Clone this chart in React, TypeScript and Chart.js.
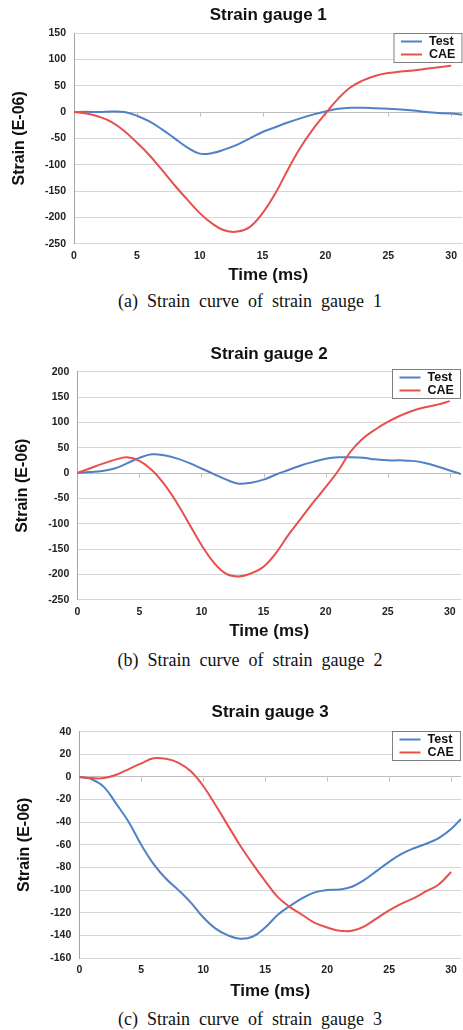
import { useEffect, useRef } from "react";
import { Chart, registerables } from "chart.js";

Chart.register(...registerables);

// ---------- data ----------
const TITLES = ["Strain gauge 1", "Strain gauge 2", "Strain gauge 3"];
const CAPTIONS = [
  "(a) Strain curve of strain gauge 1",
  "(b) Strain curve of strain gauge 2",
  "(c) Strain curve of strain gauge 3",
];
const SERIES_LABELS = ["Test", "CAE"];
const X_TITLE = "Time (ms)";
const Y_TITLE = "Strain (E-06)";
const X_TICKS = [0, 5, 10, 15, 20, 25, 30];

const TIME_TEST_1 = [0, 1, 2, 3, 4, 5, 6, 7, 8, 9, 10, 11, 12, 13, 14, 15, 16, 17, 18, 19, 20, 21, 22, 23, 24, 25, 26, 27, 28, 29, 30, 30.9];
const TEST_1 = [0, 0.5, 0, 1, 0, -7, -18, -33, -50, -67, -79, -78, -71, -62, -50, -38, -29, -20, -12, -5, 1, 6, 8, 8, 7, 6, 5, 3, 0, -2, -3, -5];
const TIME_CAE_1 = [0, 1, 2, 3, 4, 5, 6, 7, 8, 9, 10, 11, 12, 13, 14, 15, 16, 17, 18, 19, 20, 21, 22, 23, 24, 25, 26, 27, 28, 29, 30];
const CAE_1 = [0, -3, -9, -19, -36, -58, -82, -110, -139, -166, -192, -212, -225, -227, -218, -192, -155, -110, -68, -33, -3, 25, 47, 60, 69, 74, 77, 79, 82, 85, 88];

const TIME_TEST_2 = [0, 1, 2, 3, 4, 5, 6, 7, 8, 9, 10, 11, 12, 13, 14, 15, 16, 17, 18, 19, 20, 21, 22, 23, 24, 25, 26, 27, 28, 29, 30, 30.9];
const TEST_2 = [0, 2, 4, 9, 19, 30, 37, 35, 29, 20, 9, -2, -13, -21, -19, -13, -3, 6, 15, 22, 28, 31, 31, 30, 27, 25, 25, 24, 20, 13, 5, -2];
const TIME_CAE_2 = [0, 1, 2, 3, 4, 5, 6, 7, 8, 9, 10, 11, 12, 13, 14, 15, 16, 17, 18, 19, 20, 21, 22, 23, 24, 25, 26, 27, 28, 29, 30];
const CAE_2 = [0, 9, 18, 26, 31, 24, 6, -22, -58, -100, -142, -177, -199, -204, -198, -185, -158, -122, -90, -58, -28, 4, 42, 68, 86, 101, 113, 123, 130, 135, 142];

const TIME_TEST_3 = [0, 1, 2, 3, 4, 5, 6, 7, 8, 9, 10, 11, 12, 13, 14, 15, 16, 17, 18, 19, 20, 21, 22, 23, 24, 25, 26, 27, 28, 29, 30, 30.8];
const TEST_3 = [0, -2, -9, -24, -40, -60, -77, -90, -100, -111, -124, -134, -140, -143, -141, -133, -122, -114, -107, -102, -100, -99.5, -97, -91, -83, -75, -68, -63, -59, -54, -46, -37];
const TIME_CAE_3 = [0, 1, 2, 3, 4, 5, 6, 7, 8, 9, 10, 11, 12, 13, 14, 15, 16, 17, 18, 19, 20, 21, 22, 23, 24, 25, 26, 27, 28, 29, 30];
const CAE_3 = [0, -1, -1, 2, 7, 12, 16.5, 16, 12.5, 5, -8, -25, -43, -61, -77, -92, -106, -115, -122, -129, -133, -136, -136, -132, -125, -118, -112, -107, -101, -95, -84];

const Y_MIN = [-250, -250, -160];
const Y_MAX = [150, 200, 40];
const Y_STEP = [50, 50, 20];
const X_MAX = [30.9, 30.9, 30.8];

const COLOR_TEST = "#4f81c7";
const COLOR_CAE = "#e8504e";

// ---------- layout (page coordinates) ----------
type Panel = {
  canvasTop: number;
  canvasHeight: number;
  titleY: number;
  areaTop: number;
  areaBottom: number;
  areaLeft: number;
  areaRight: number;
  yTitleX: number;
  timeY: number;
  legendDy: number;
  captionY: number;
};

const PANELS: Panel[] = [
  { canvasTop: 0, canvasHeight: 288, titleY: 15, areaTop: 33, areaBottom: 243.7, areaLeft: 74, areaRight: 463, yTitleX: 20, timeY: 275, legendDy: 0, captionY: 301 },
  { canvasTop: 336, canvasHeight: 308, titleY: 354, areaTop: 371.7, areaBottom: 599.7, areaLeft: 77.3, areaRight: 461, yTitleX: 23, timeY: 631.7, legendDy: -3, captionY: 660 },
  { canvasTop: 695, canvasHeight: 308, titleY: 712, areaTop: 731.7, areaBottom: 958, areaLeft: 79.3, areaRight: 463, yTitleX: 25, timeY: 991.7, legendDy: -0.7, captionY: 1019 },
];

const SANS = "'Liberation Sans', Arial, sans-serif";
const SERIF = "'Liberation Serif', 'Times New Roman', serif";
const TITLE_SIZE = 17;
const YTITLE_SIZE = 16;
const TICK_SIZE = 10.5;
const LEGEND_SIZE = 12.5;

function toPoints(xs: number[], ys: number[]) {
  return xs.map((x, i) => ({ x, y: ys[i] }));
}

const SERIES = [
  [toPoints(TIME_TEST_1, TEST_1), toPoints(TIME_CAE_1, CAE_1)],
  [toPoints(TIME_TEST_2, TEST_2), toPoints(TIME_CAE_2, CAE_2)],
  [toPoints(TIME_TEST_3, TEST_3), toPoints(TIME_CAE_3, CAE_3)],
];

const legendPlugin = {
  id: "boxLegend",
  afterDraw(chart: any, _args: any, opts: any) {
    const { ctx, chartArea } = chart;
    const w = 68;
    const h = 29;
    const left = chartArea.right - w - 0.5;
    const top = Math.round(chartArea.top + (opts.dy || 0)) + 0.5;
    ctx.save();
    ctx.fillStyle = "#ffffff";
    ctx.fillRect(left, top, w, h);
    ctx.strokeStyle = "#7f7f7f";
    ctx.lineWidth = 1;
    ctx.strokeRect(left, top, w, h);
    ctx.font = `bold ${LEGEND_SIZE}px ${SANS}`;
    ctx.textBaseline = "middle";
    ctx.textAlign = "left";
    chart.data.datasets.forEach((ds: any, i: number) => {
      const y = top + 8 + i * 13;
      ctx.strokeStyle = ds.borderColor;
      ctx.lineWidth = 2;
      ctx.beginPath();
      ctx.moveTo(left + 7, y);
      ctx.lineTo(left + 28, y);
      ctx.stroke();
      ctx.fillStyle = "#111";
      ctx.fillText(ds.label, left + 35, y + 0.5);
    });
    ctx.restore();
  },
};

const zeroTicksPlugin = {
  id: "zeroTicks",
  beforeDatasetsDraw(chart: any) {
    const { ctx, scales } = chart;
    const y0 = Math.round(scales.y.getPixelForValue(0)) + 0.5;
    ctx.save();
    ctx.strokeStyle = "#bfbfbf";
    ctx.lineWidth = 1;
    X_TICKS.forEach((v) => {
      if (v === 0) return;
      const x = Math.round(scales.x.getPixelForValue(v)) + 0.5;
      ctx.beginPath();
      ctx.moveTo(x, y0);
      ctx.lineTo(x, y0 + 4);
      ctx.stroke();
    });
    ctx.restore();
  },
};

function StrainChart({ index }: { index: number }) {
  const ref = useRef<HTMLCanvasElement | null>(null);
  const p = PANELS[index];

  useEffect(() => {
    if (!ref.current) return;
    const lh = TITLE_SIZE * 1.2;
    const titleRel = p.titleY - p.canvasTop;
    const areaTopRel = p.areaTop - p.canvasTop;
    const titlePadTop = titleRel - lh / 2;
    const titlePadBottom = areaTopRel - titlePadTop - lh;
    const canvasBottom = p.canvasTop + p.canvasHeight;
    const xTitlePadBottom = canvasBottom - p.timeY - lh / 2;
    const yTitlePadTop = p.yTitleX - (YTITLE_SIZE * 1.2) / 2;

    const chart = new Chart(ref.current, {
      type: "line",
      data: {
        datasets: SERIES_LABELS.map((label, i) => ({
          label,
          data: SERIES[index][i],
          borderColor: i === 0 ? COLOR_TEST : COLOR_CAE,
          backgroundColor: i === 0 ? COLOR_TEST : COLOR_CAE,
          borderWidth: 2,
          pointRadius: 0,
          fill: false,
          tension: 0.4,
          order: i === 0 ? 2 : 1,
        })),
      },
      options: {
        responsive: false,
        animation: false,
        devicePixelRatio: 1,
        events: [],
        layout: { padding: { top: 0, left: 0, bottom: 0, right: 463 - p.areaRight } },
        plugins: {
          legend: { display: false },
          tooltip: { enabled: false },
          title: {
            display: true,
            text: TITLES[index],
            fullSize: false,
            color: "#111",
            font: { family: SANS, size: TITLE_SIZE, weight: "bold", lineHeight: 1.2 },
            padding: { top: titlePadTop, bottom: titlePadBottom },
          },
          boxLegend: { dy: p.legendDy },
        } as any,
        scales: {
          x: {
            type: "linear",
            min: 0,
            max: X_MAX[index],
            afterBuildTicks: (s: any) => {
              s.ticks = X_TICKS.map((v) => ({ value: v }));
            },
            afterFit: (s: any) => {
              s.height = canvasBottom - p.areaBottom;
            },
            grid: { display: false, drawTicks: false },
            border: { display: false },
            ticks: {
              padding: 6,
              color: "#222",
              font: { family: SANS, size: TICK_SIZE, weight: "bold" },
              maxRotation: 0,
              autoSkip: false,
            },
            title: {
              display: true,
              text: X_TITLE,
              color: "#111",
              font: { family: SANS, size: TITLE_SIZE, weight: "bold", lineHeight: 1.2 },
              padding: { top: 0, bottom: xTitlePadBottom },
            },
          },
          y: {
            type: "linear",
            min: Y_MIN[index],
            max: Y_MAX[index],
            afterFit: (s: any) => {
              s.width = p.areaLeft;
            },
            grid: {
              display: true,
              drawTicks: false,
              color: (c: any) => (c.tick && c.tick.value === 0 ? "#bdbdbd" : "#d6d6d6"),
              lineWidth: 1,
            },
            border: { display: true, color: "#a6a6a6", width: 1 },
            ticks: {
              stepSize: Y_STEP[index],
              padding: 8,
              color: "#222",
              font: { family: SANS, size: TICK_SIZE, weight: "bold" },
            },
            title: {
              display: true,
              text: Y_TITLE,
              color: "#111",
              font: { family: SANS, size: YTITLE_SIZE, weight: "bold", lineHeight: 1.2 },
              padding: { top: yTitlePadTop, bottom: 0 },
            },
          },
        },
      } as any,
      plugins: [legendPlugin, zeroTicksPlugin],
    });
    return () => chart.destroy();
  }, [index]);

  return (
    <>
      <canvas
        ref={ref}
        width={463}
        height={p.canvasHeight}
        style={{ position: "absolute", left: 0, top: p.canvasTop, width: 463, height: p.canvasHeight, display: "block" }}
      />
      <div
        style={{
          position: "absolute",
          left: 0,
          top: p.captionY - 10,
          width: 500,
          textAlign: "center",
          fontFamily: SERIF,
          fontSize: 18,
          lineHeight: "20px",
          wordSpacing: "4.5px",
          color: "#111",
          whiteSpace: "nowrap",
        }}
      >
        {CAPTIONS[index]}
      </div>
    </>
  );
}

export default function App() {
  return (
    <div
      style={{
        position: "absolute",
        left: 0,
        top: 0,
        width: 463,
        height: 1030,
        background: "#ffffff",
        overflow: "hidden",
      }}
    >
      <StrainChart index={0} />
      <StrainChart index={1} />
      <StrainChart index={2} />
    </div>
  );
}
